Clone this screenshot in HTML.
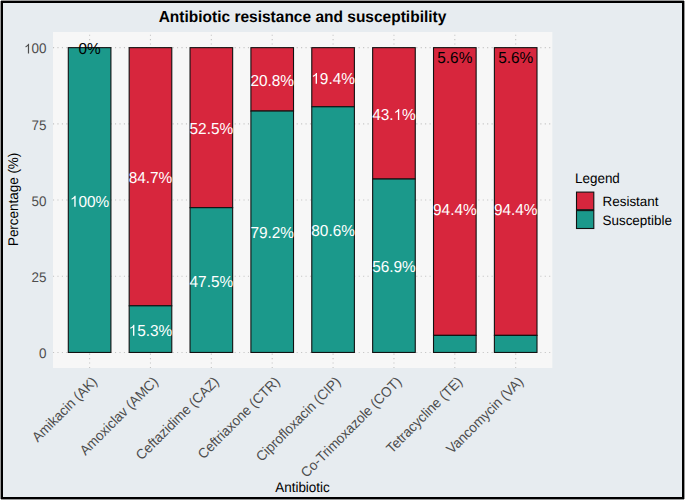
<!DOCTYPE html><html><head><meta charset="utf-8"><style>html,body{margin:0;padding:0;background:#fff}svg{display:block}text{font-family:"Liberation Sans",sans-serif;text-rendering:geometricPrecision}</style></head><body>
<svg width="685" height="500" viewBox="0 0 685 500">
<rect x="0" y="0" width="685" height="500" fill="#9a9a9a"/>
<rect x="1" y="1" width="683" height="498" fill="#000"/>
<rect x="0" y="0" width="1" height="1" fill="#fff"/>
<rect x="684" y="0" width="1" height="1" fill="#fff"/>
<rect x="0" y="499" width="1" height="1" fill="#fff"/>
<rect x="684" y="499" width="1" height="1" fill="#fff"/>
<rect x="3" y="3" width="679" height="494" fill="#E7ECF0"/>
<rect x="53" y="32" width="499.3" height="336" fill="#F7F7F7"/>
<line x1="53" y1="352.45" x2="552.3" y2="352.45" stroke="#C4C4C4" stroke-width="1.1" stroke-dasharray="1.1 3.33"/>
<line x1="53" y1="276.25" x2="552.3" y2="276.25" stroke="#C4C4C4" stroke-width="1.1" stroke-dasharray="1.1 3.33"/>
<line x1="53" y1="200.05" x2="552.3" y2="200.05" stroke="#C4C4C4" stroke-width="1.1" stroke-dasharray="1.1 3.33"/>
<line x1="53" y1="123.85" x2="552.3" y2="123.85" stroke="#C4C4C4" stroke-width="1.1" stroke-dasharray="1.1 3.33"/>
<line x1="53" y1="47.65" x2="552.3" y2="47.65" stroke="#C4C4C4" stroke-width="1.1" stroke-dasharray="1.1 3.33"/>
<line x1="89.60" y1="368" x2="89.60" y2="32" stroke="#C4C4C4" stroke-width="1.1" stroke-dasharray="1.1 3.33"/>
<line x1="150.47" y1="368" x2="150.47" y2="32" stroke="#C4C4C4" stroke-width="1.1" stroke-dasharray="1.1 3.33"/>
<line x1="211.34" y1="368" x2="211.34" y2="32" stroke="#C4C4C4" stroke-width="1.1" stroke-dasharray="1.1 3.33"/>
<line x1="272.21" y1="368" x2="272.21" y2="32" stroke="#C4C4C4" stroke-width="1.1" stroke-dasharray="1.1 3.33"/>
<line x1="333.08" y1="368" x2="333.08" y2="32" stroke="#C4C4C4" stroke-width="1.1" stroke-dasharray="1.1 3.33"/>
<line x1="393.95" y1="368" x2="393.95" y2="32" stroke="#C4C4C4" stroke-width="1.1" stroke-dasharray="1.1 3.33"/>
<line x1="454.82" y1="368" x2="454.82" y2="32" stroke="#C4C4C4" stroke-width="1.1" stroke-dasharray="1.1 3.33"/>
<line x1="515.69" y1="368" x2="515.69" y2="32" stroke="#C4C4C4" stroke-width="1.1" stroke-dasharray="1.1 3.33"/>
<rect x="68.30" y="47.65" width="42.61" height="304.80" fill="#1B998B" stroke="#111" stroke-width="1.1"/>
<rect x="129.17" y="47.65" width="42.61" height="258.17" fill="#D7263D" stroke="#111" stroke-width="1.1"/>
<rect x="129.17" y="305.82" width="42.61" height="46.63" fill="#1B998B" stroke="#111" stroke-width="1.1"/>
<rect x="190.04" y="47.65" width="42.61" height="160.02" fill="#D7263D" stroke="#111" stroke-width="1.1"/>
<rect x="190.04" y="207.67" width="42.61" height="144.78" fill="#1B998B" stroke="#111" stroke-width="1.1"/>
<rect x="250.91" y="47.65" width="42.61" height="63.40" fill="#D7263D" stroke="#111" stroke-width="1.1"/>
<rect x="250.91" y="111.05" width="42.61" height="241.40" fill="#1B998B" stroke="#111" stroke-width="1.1"/>
<rect x="311.78" y="47.65" width="42.61" height="59.13" fill="#D7263D" stroke="#111" stroke-width="1.1"/>
<rect x="311.78" y="106.78" width="42.61" height="245.67" fill="#1B998B" stroke="#111" stroke-width="1.1"/>
<rect x="372.65" y="47.65" width="42.61" height="131.37" fill="#D7263D" stroke="#111" stroke-width="1.1"/>
<rect x="372.65" y="179.02" width="42.61" height="173.43" fill="#1B998B" stroke="#111" stroke-width="1.1"/>
<rect x="433.52" y="47.65" width="42.61" height="287.73" fill="#D7263D" stroke="#111" stroke-width="1.1"/>
<rect x="433.52" y="335.38" width="42.61" height="17.07" fill="#1B998B" stroke="#111" stroke-width="1.1"/>
<rect x="494.39" y="47.65" width="42.61" height="287.73" fill="#D7263D" stroke="#111" stroke-width="1.1"/>
<rect x="494.39" y="335.38" width="42.61" height="17.07" fill="#1B998B" stroke="#111" stroke-width="1.1"/>
<text transform="translate(89.60,54.24) scale(1,1.03)" font-size="15.4" fill="#000" text-anchor="middle">0%</text>
<g transform="translate(89.60,206.64) scale(1,1.03)">
<text font-size="15.4" fill="#fff" text-anchor="middle"> 00%</text>
<path transform="translate(-19.694,0) scale(0.00752,-0.00720)" fill="#fff" d="M763 0L583 0L583 1147Q518 1085 465 1054Q412 1023 359 992Q306 961 222 930L222 1104Q373 1175 429.5 1225.5Q486 1276 542.5 1326.5Q599 1377 646 1472L763 1472Z"/>
</g>
<text transform="translate(150.47,183.32) scale(1,1.03)" font-size="15.4" fill="#fff" text-anchor="middle">84.7%</text>
<g transform="translate(150.47,335.72) scale(1,1.03)">
<text font-size="15.4" fill="#fff" text-anchor="middle"> 5.3%</text>
<path transform="translate(-21.833,0) scale(0.00752,-0.00720)" fill="#fff" d="M763 0L583 0L583 1147Q518 1085 465 1054Q412 1023 359 992Q306 961 222 930L222 1104Q373 1175 429.5 1225.5Q486 1276 542.5 1326.5Q599 1377 646 1472L763 1472Z"/>
</g>
<text transform="translate(211.34,134.25) scale(1,1.03)" font-size="15.4" fill="#fff" text-anchor="middle">52.5%</text>
<text transform="translate(211.34,286.65) scale(1,1.03)" font-size="15.4" fill="#fff" text-anchor="middle">47.5%</text>
<text transform="translate(272.21,85.94) scale(1,1.03)" font-size="15.4" fill="#fff" text-anchor="middle">20.8%</text>
<text transform="translate(272.21,238.34) scale(1,1.03)" font-size="15.4" fill="#fff" text-anchor="middle">79.2%</text>
<g transform="translate(333.08,83.80) scale(1,1.03)">
<text font-size="15.4" fill="#fff" text-anchor="middle"> 9.4%</text>
<path transform="translate(-21.833,0) scale(0.00752,-0.00720)" fill="#fff" d="M763 0L583 0L583 1147Q518 1085 465 1054Q412 1023 359 992Q306 961 222 930L222 1104Q373 1175 429.5 1225.5Q486 1276 542.5 1326.5Q599 1377 646 1472L763 1472Z"/>
</g>
<text transform="translate(333.08,236.20) scale(1,1.03)" font-size="15.4" fill="#fff" text-anchor="middle">80.6%</text>
<g transform="translate(393.95,119.92) scale(1,1.03)">
<text font-size="15.4" fill="#fff" text-anchor="middle">43. %</text>
<path transform="translate(-0.425,0) scale(0.00752,-0.00720)" fill="#fff" d="M763 0L583 0L583 1147Q518 1085 465 1054Q412 1023 359 992Q306 961 222 930L222 1104Q373 1175 429.5 1225.5Q486 1276 542.5 1326.5Q599 1377 646 1472L763 1472Z"/>
</g>
<text transform="translate(393.95,272.32) scale(1,1.03)" font-size="15.4" fill="#fff" text-anchor="middle">56.9%</text>
<text transform="translate(454.82,62.77) scale(1,1.03)" font-size="15.4" fill="#000" text-anchor="middle">5.6%</text>
<text transform="translate(454.82,215.17) scale(1,1.03)" font-size="15.4" fill="#fff" text-anchor="middle">94.4%</text>
<text transform="translate(515.69,62.77) scale(1,1.03)" font-size="15.4" fill="#000" text-anchor="middle">5.6%</text>
<text transform="translate(515.69,215.17) scale(1,1.03)" font-size="15.4" fill="#fff" text-anchor="middle">94.4%</text>
<text transform="translate(46.50,358.23) scale(1,1.04)" font-size="13.45" fill="#4D4D4D" text-anchor="end">0</text>
<text transform="translate(46.50,282.03) scale(1,1.04)" font-size="13.45" fill="#4D4D4D" text-anchor="end">25</text>
<text transform="translate(46.50,205.83) scale(1,1.04)" font-size="13.45" fill="#4D4D4D" text-anchor="end">50</text>
<text transform="translate(46.50,129.63) scale(1,1.04)" font-size="13.45" fill="#4D4D4D" text-anchor="end">75</text>
<g transform="translate(46.50,53.43) scale(1,1.04)">
<text font-size="13.45" fill="#4D4D4D" text-anchor="end"> 00</text>
<path transform="translate(-22.441,0) scale(0.00657,-0.00629)" fill="#4D4D4D" d="M763 0L583 0L583 1147Q518 1085 465 1054Q412 1023 359 992Q306 961 222 930L222 1104Q373 1175 429.5 1225.5Q486 1276 542.5 1326.5Q599 1377 646 1472L763 1472Z"/>
</g>
<text transform="translate(98.00,382.60) rotate(-45) scale(1,1.04)" font-size="13.45" fill="#4D4D4D" text-anchor="end">Amikacin (AK)</text>
<text transform="translate(158.87,382.60) rotate(-45) scale(1,1.04)" font-size="13.45" fill="#4D4D4D" text-anchor="end">Amoxiclav (AMC)</text>
<text transform="translate(219.74,382.60) rotate(-45) scale(1,1.04)" font-size="13.45" fill="#4D4D4D" text-anchor="end">Ceftazidime (CAZ)</text>
<text transform="translate(280.61,382.60) rotate(-45) scale(1,1.04)" font-size="13.45" fill="#4D4D4D" text-anchor="end">Ceftriaxone (CTR)</text>
<text transform="translate(341.48,382.60) rotate(-45) scale(1,1.04)" font-size="13.45" fill="#4D4D4D" text-anchor="end">Ciprofloxacin (CIP)</text>
<text transform="translate(402.35,382.60) rotate(-45) scale(1,1.04)" font-size="13.45" fill="#4D4D4D" text-anchor="end">Co-Trimoxazole (COT)</text>
<text transform="translate(463.22,382.60) rotate(-45) scale(1,1.04)" font-size="13.45" fill="#4D4D4D" text-anchor="end">Tetracycline (TE)</text>
<text transform="translate(524.09,382.60) rotate(-45) scale(1,1.04)" font-size="13.45" fill="#4D4D4D" text-anchor="end">Vancomycin (VA)</text>
<text transform="translate(302.50,22.00) scale(1,1.03)" font-size="15.5" fill="#000" text-anchor="middle" font-weight="bold">Antibiotic resistance and susceptibility</text>
<text transform="translate(302.50,491.60) scale(1,1.04)" font-size="13.45" fill="#000" text-anchor="middle">Antibiotic</text>
<text transform="translate(18.40,199.40) rotate(-90) scale(1,1.04)" font-size="13.45" fill="#000" text-anchor="middle">Percentage (%)</text>
<text transform="translate(575.00,182.60) scale(1,1.04)" font-size="13.45" fill="#000">Legend</text>
<rect x="576.5" y="192.1" width="17.3" height="17.6" fill="#D7263D" stroke="#111" stroke-width="1.1"/>
<rect x="576.5" y="210.6" width="17.3" height="17.9" fill="#1B998B" stroke="#111" stroke-width="1.1"/>
<text transform="translate(602.50,206.40) scale(1,1.01)" font-size="13.45" fill="#000">Resistant</text>
<text transform="translate(602.50,224.80) scale(1,1.01)" font-size="13.45" fill="#000">Susceptible</text>
</svg></body></html>
